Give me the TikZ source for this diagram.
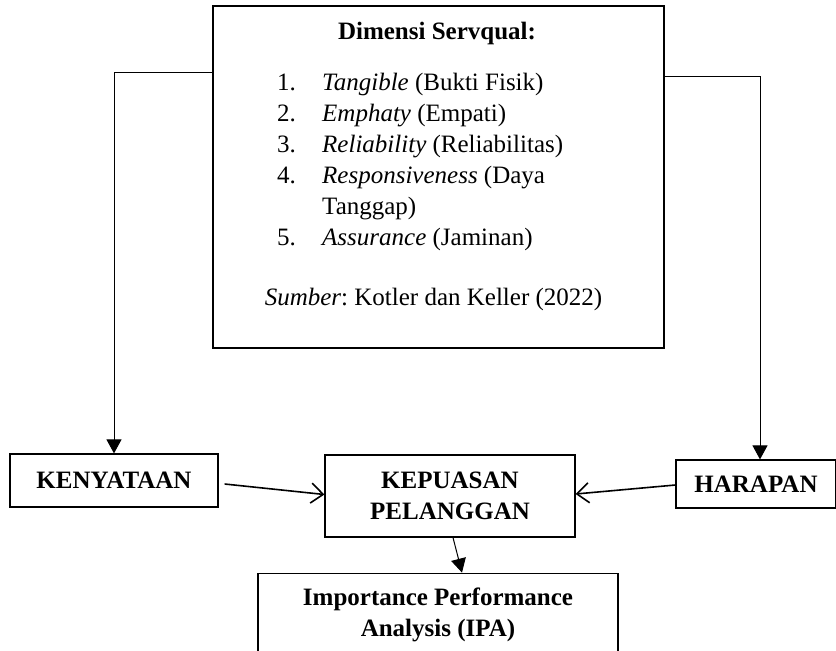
\documentclass[tikz,border=0pt]{standalone}
\usepackage{fontspec}
\setmainfont{Liberation Serif}
\frenchspacing
\usetikzlibrary{arrows.meta,positioning}
\tikzstyle{kotak}=[
	rectangle,
	draw=black,
	line width=1.2pt,
	inner sep=0pt,
	font=\bfseries\fontsize{25}{31}\selectfont,
	align=center]
\tikzstyle{teks}=[
	inner sep=0pt,
	font=\fontsize{25}{31}\selectfont]
\tikzstyle{alir}=[
	line width=1pt,
	-{Triangle[length=14pt,width=15pt]}]
\tikzstyle{temu}=[
	line width=1.6pt,
	-{Straight Barb[length=12pt,width=20pt]}]

\begin{document}
\begin{tikzpicture}[x=1pt,y=-1pt]
	\useasboundingbox (0,0) rectangle (836,651);
	% kotak dimensi servqual
	\node[kotak,minimum width=451,minimum height=342]	(servq)	at (438.5,177)	{};
	\node[teks,font=\bfseries\fontsize{25}{31}\selectfont,anchor=base]	(judul)	at (437,39)	{Dimensi Servqual:};
	\node[teks,anchor=base west]	(daftar)	at (277,90)	{\begin{tabular}[t]{@{}p{45pt}@{}l@{}}
		1. & \textit{Tangible} (Bukti Fisik)\\
		2. & \textit{Emphaty} (Empati)\\
		3. & \textit{Reliability} (Reliabilitas)\\
		4. & \textit{Responsiveness} (Daya\\
		   & Tanggap)\\
		5. & \textit{Assurance} (Jaminan)
	\end{tabular}};
	\node[teks,anchor=base]	(sumber)	at (433.5,305)	{\textit{Sumber}: Kotler dan Keller (2022)};
	% kotak bawah
	\node[kotak,minimum width=208,minimum height=53]	(nyata)	at (114,480.5)	{KENYATAAN};
	\node[kotak,minimum width=250,minimum height=82]	(puas)	at (450,496)	{KEPUASAN\\PELANGGAN};
	\node[kotak,minimum width=160,minimum height=48]	(harap)	at (756,484)	{HARAPAN};
	\node[kotak,minimum width=360,minimum height=83,xshift=-12pt]	(ipa)	[below=35pt of puas]	{Importance Performance\\Analysis (IPA)};
	% panah
	\draw[alir]	([shift={(0,67)}]servq.north west) -| (nyata.north);
	\draw[alir]	([shift={(0,71)}]servq.north east) -| ([xshift=4pt]harap.north);
	\draw[temu]	([shift={(6,3.5)}]nyata.east) -- ([shift={(0,-1.5)}]puas.west);
	\draw[temu]	([shift={(0,1)}]harap.west) -- ([shift={(0,-2)}]puas.east);
	\draw[alir]	([shift={(3,0)}]puas.south) -- ([shift={(24,0)}]ipa.north);
\end{tikzpicture}
\end{document}
